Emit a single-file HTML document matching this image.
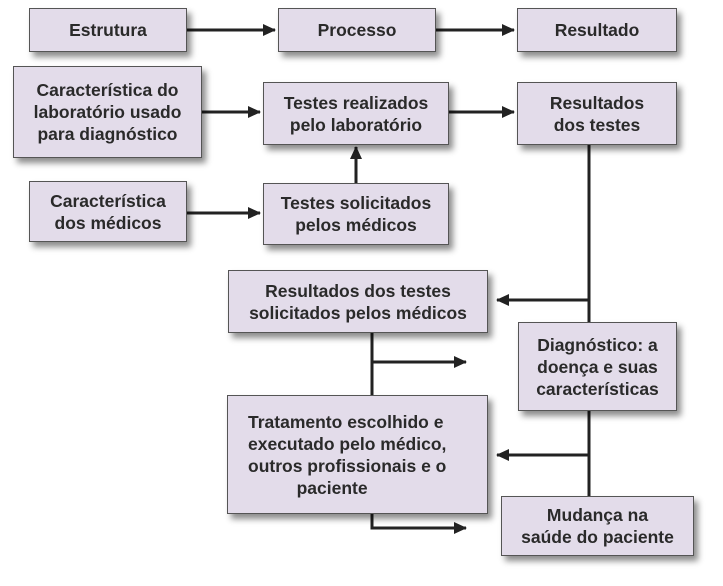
<!DOCTYPE html>
<html><head><meta charset="utf-8"><style>
body{margin:0;width:723px;height:586px;background:#fff;position:relative;overflow:hidden;font-family:"Liberation Sans",sans-serif}
.b{position:absolute;box-sizing:border-box;background:#e3dcea;border:1.5px solid #555;box-shadow:4px 5px 6px rgba(0,0,0,0.45);display:flex;align-items:center;justify-content:center;text-align:center;font-weight:bold;font-size:17.5px;line-height:22px;color:#2a2a2a}
svg{position:absolute;left:0;top:0}
</style></head><body>
<svg width="723" height="586">
<defs><marker id="a" markerWidth="14" markerHeight="14" refX="12" refY="6" orient="auto" markerUnits="userSpaceOnUse"><path d="M0,0 L13,6 L0,12z" fill="#222"/></marker></defs>
<g stroke="#222" stroke-width="3" fill="none">
<line x1="187" y1="30" x2="275" y2="30" marker-end="url(#a)"/>
<line x1="436" y1="30" x2="514" y2="30" marker-end="url(#a)"/>
<line x1="202" y1="112" x2="260" y2="112" marker-end="url(#a)"/>
<line x1="449" y1="112" x2="514" y2="112" marker-end="url(#a)"/>
<line x1="187" y1="213" x2="260" y2="213" marker-end="url(#a)"/>
<line x1="356" y1="183" x2="356" y2="147" marker-end="url(#a)"/>
<line x1="589" y1="145" x2="589" y2="322"/>
<line x1="589" y1="300" x2="497" y2="300" marker-end="url(#a)"/>
<line x1="589" y1="411" x2="589" y2="496"/>
<line x1="589" y1="455" x2="497" y2="455" marker-end="url(#a)"/>
<line x1="372" y1="333" x2="372" y2="395"/>
<line x1="372" y1="362" x2="466" y2="362" marker-end="url(#a)"/>
<polyline points="372,514 372,528 466,528" marker-end="url(#a)"/>
</g></svg>
<div class="b" style="left:29px;top:8px;width:158px;height:44px">Estrutura</div>
<div class="b" style="left:278px;top:8px;width:158px;height:44px">Processo</div>
<div class="b" style="left:517px;top:8px;width:160px;height:44px">Resultado</div>
<div class="b" style="left:13px;top:66px;width:189px;height:92px">Característica do<br>laboratório usado<br>para diagnóstico</div>
<div class="b" style="left:263px;top:82px;width:186px;height:63px">Testes realizados<br>pelo laboratório</div>
<div class="b" style="left:517px;top:82px;width:160px;height:63px">Resultados<br>dos testes</div>
<div class="b" style="left:29px;top:181px;width:158px;height:61px">Característica<br>dos médicos</div>
<div class="b" style="left:263px;top:183px;width:186px;height:62px">Testes solicitados<br>pelos médicos</div>
<div class="b" style="left:228px;top:270px;width:260px;height:63px">Resultados dos testes<br>solicitados pelos médicos</div>
<div class="b" style="left:518px;top:322px;width:159px;height:89px">Diagnóstico: a<br>doença e suas<br>características</div>
<div class="b" style="left:227px;top:395px;width:261px;height:119px;justify-content:flex-start;text-align:left;padding-left:20px">Tratamento escolhido e<br>executado pelo médico,<br>outros profissionais e o<br>&nbsp;&nbsp;&nbsp;&nbsp;&nbsp;&nbsp;&nbsp;&nbsp;&nbsp;&nbsp;paciente</div>
<div class="b" style="left:501px;top:496px;width:193px;height:60px">Mudança na<br>saúde do paciente</div>
</body></html>
